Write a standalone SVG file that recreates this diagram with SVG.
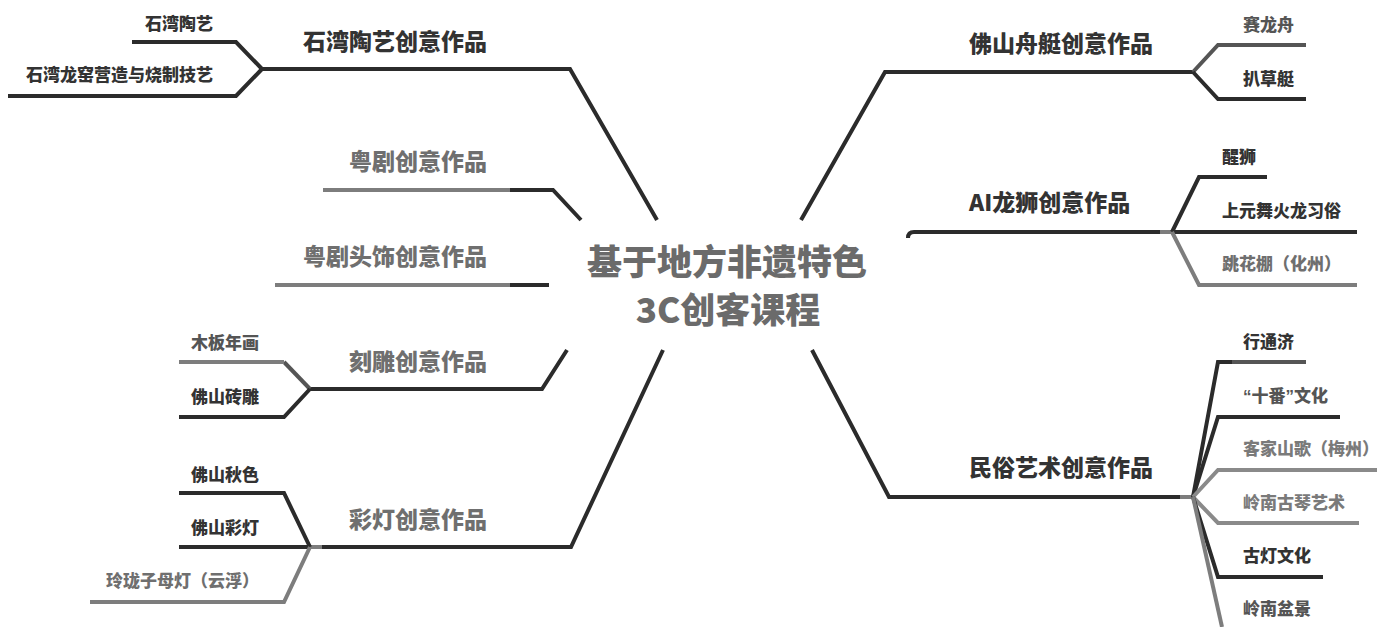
<svg xmlns="http://www.w3.org/2000/svg" width="1377" height="627" viewBox="0 0 1377 627">
<style>
path{fill:none;stroke-width:4;stroke-linejoin:miter;stroke-linecap:butt}
.d{stroke:#2b2b2b}.g{stroke:#7d7d7d}.m{stroke:#555}.l{stroke:#8a8a8a}
text{font-family:"Noto Sans CJK SC","Noto Sans CJK TC",sans-serif;font-weight:900}
.title{font-size:35px;fill:#6b6b6b;text-anchor:middle}
.h{font-size:23px}.s{font-size:17px}
.e{text-anchor:end}
.td{fill:#333}.tg{fill:#6f6f6f}.tm{fill:#555}.tl{fill:#7a7a7a}
</style>
<rect width="1377" height="627" fill="#fff"/>
<g id="connectors">
<path class="d" d="M657,220 L570,69 L262,69"/>
<path class="d" d="M262,69 L236,42 L132,42"/>
<path class="d" d="M262,69 L236,96 L8,96"/>
<path class="d" d="M581,220 L553,190 L510,190"/>
<path class="g" d="M510,190 L323,190"/>
<path class="d" d="M549,285 L510,285"/>
<path class="g" d="M510,285 L275,285"/>
<path class="d" d="M567,350 L542,389 L310,389"/>
<path class="m" d="M310,389 L284,362"/>
<path class="g" d="M284,362 L179,362"/>
<path class="d" d="M310,389 L284,417 L179,417"/>
<path class="d" d="M663,350 L571,547 L322,547"/>
<path class="g" d="M322,547 L310,547"/>
<path class="d" d="M310,547 L284,493 L179,493"/>
<path class="d" d="M310,547 L179,547"/>
<path class="g" d="M310,547 L284,602 L90,602"/>
<path class="d" d="M801,220 L885,72 L1193,72"/>
<path class="m" d="M1193,72 L1218,45 L1306,45"/>
<path class="d" d="M1193,72 L1218,99 L1306,99"/>
<path class="d" d="M908,238 Q908,232 914,232 L1160,232"/>
<path class="g" d="M1160,232 L1176,232"/>
<path class="d" d="M1172,232 L1199,177 L1267,177"/>
<path class="d" d="M1174,232 L1357,232"/>
<path class="g" d="M1172,232 L1199,285 L1357,285"/>
<path class="d" d="M812,350 L889,497 L1180,497"/>
<path class="g" d="M1180,497 L1193,497"/>
<path class="d" d="M1193,497 L1218,362 L1232,362"/>
<path class="m" d="M1232,362 L1306,362"/>
<path class="d" d="M1193,497 L1218,417 L1340,417"/>
<path class="l" d="M1193,497 L1218,470 L1377,470"/>
<path class="l" d="M1193,497 L1218,523 L1359,523"/>
<path class="d" d="M1193,497 L1218,577 L1323,577"/>
<path class="g" d="M1193,497 L1222,627"/>
</g>
<g id="center"><text class="title" x="727" y="275">基于地方非遗特色</text><text class="title" x="728" y="323">3C创客课程</text></g>
<g id="shiwan"><text class="h e td" x="487" y="50">石湾陶艺创意作品</text></g>
<g id="shiwan-taoyi"><text class="s e td" x="213" y="30">石湾陶艺</text></g>
<g id="shiwan-longyao"><text class="s e td" x="213" y="81">石湾龙窑营造与烧制技艺</text></g>
<g id="yueju"><text class="h e tg" x="487" y="170">粤剧创意作品</text></g>
<g id="yueju-toushi"><text class="h e tg" x="487" y="265">粤剧头饰创意作品</text></g>
<g id="kediao"><text class="h e tg" x="487" y="370">刻雕创意作品</text></g>
<g id="muban"><text class="s e tm" x="259" y="349">木板年画</text></g>
<g id="zhuandiao"><text class="s e td" x="259" y="403">佛山砖雕</text></g>
<g id="caideng"><text class="h e tg" x="487" y="528">彩灯创意作品</text></g>
<g id="qiuse"><text class="s e td" x="259" y="481">佛山秋色</text></g>
<g id="foshan-caideng"><text class="s e td" x="259" y="534">佛山彩灯</text></g>
<g id="linglong"><text class="s e tg" x="259" y="587">玲珑子母灯（云浮）</text></g>
<g id="zhouting"><text class="h td" x="969" y="52">佛山舟艇创意作品</text></g>
<g id="sailongzhou"><text class="s tm" x="1243" y="31">赛龙舟</text></g>
<g id="bacaoting"><text class="s td" x="1243" y="85">扒草艇</text></g>
<g id="longshi"><text class="h td" x="969" y="211">AI龙狮创意作品</text></g>
<g id="xingshi"><text class="s td" x="1222" y="163">醒狮</text></g>
<g id="shangyuan"><text class="s td" x="1222" y="217">上元舞火龙习俗</text></g>
<g id="tiaohuapeng"><text class="s tg" x="1222" y="270">跳花棚（化州）</text></g>
<g id="minsu"><text class="h td" x="969" y="476">民俗艺术创意作品</text></g>
<g id="xingtongji"><text class="s td" x="1243" y="348">行通济</text></g>
<g id="shifan"><text class="s tm" x="1243" y="402"><tspan font-family="Liberation Sans">“</tspan>十番<tspan font-family="Liberation Sans">”</tspan>文化</text></g>
<g id="kejia"><text class="s tl" x="1243" y="455">客家山歌（梅州）</text></g>
<g id="guqin"><text class="s tl" x="1243" y="509">岭南古琴艺术</text></g>
<g id="gudeng"><text class="s td" x="1243" y="562">古灯文化</text></g>
<g id="penjing"><text class="s tm" x="1243" y="615">岭南盆景</text></g>
</svg>
